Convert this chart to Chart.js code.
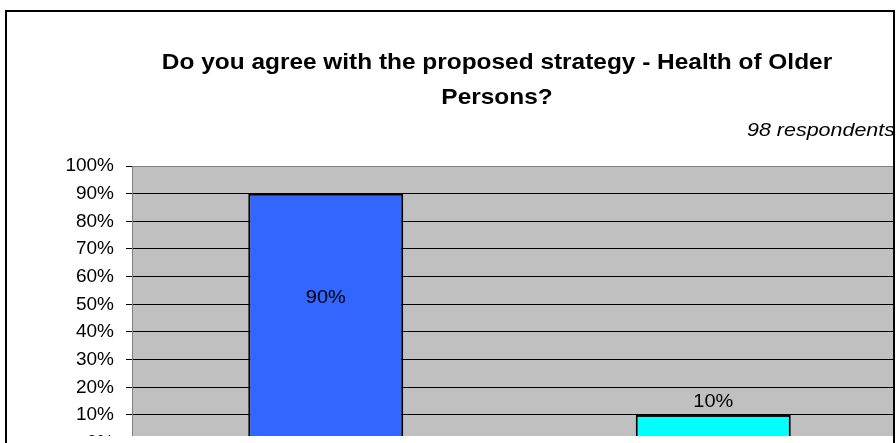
<!DOCTYPE html>
<html>
<head>
<meta charset="utf-8">
<script src="https://cdn.jsdelivr.net/npm/chart.js@4.4.0/dist/chart.umd.min.js"></script>
<style>
  html, body { margin: 0; padding: 0; background: #fff; overflow: hidden; }
  #wrap { position: absolute; left: 0; top: 0; width: 896px; height: 436px; overflow: hidden; }
  #leftTail { position: absolute; left: 5px; top: 436px; width: 2px; height: 7px; background: #000; }
  #rightTail { position: absolute; left: 893px; top: 436px; width: 2px; height: 7px; background: #000; }
</style>
</head>
<body>
<div id="wrap"><canvas id="c" width="910" height="466"></canvas></div>
<div id="leftTail"></div>
<div id="rightTail"></div>
<script>
const titleLines = ["Do you agree with the proposed strategy - Health of Older", "Persons?"];
const subtitleText = "98 respondents";
const categories = ["Yes", "No"];
const values = [90, 10];
const barColors = ["#3366FF", "#00FFFF"];
const tickStep = 10;

function stretchText(ctx, txt, x, y, sx, align) {
  ctx.save();
  ctx.translate(x, y);
  ctx.scale(sx, 1);
  ctx.textAlign = align;
  ctx.fillText(txt, 0, 0);
  ctx.restore();
}

const framePlugin = {
  id: 'frame',
  beforeDraw(chart) {
    const { ctx, chartArea: a } = chart;
    ctx.save();
    ctx.fillStyle = '#C0C0C0';
    ctx.fillRect(a.left, a.top, a.right - a.left, a.bottom - a.top);
    ctx.restore();
  },
  afterDraw(chart) {
    const { ctx } = chart;
    ctx.save();
    ctx.fillStyle = '#000';
    ctx.textBaseline = 'alphabetic';
    ctx.font = 'bold 22px "Liberation Sans", Arial, sans-serif';
    stretchText(ctx, titleLines[0], 497, 69, 1.11, 'center');
    stretchText(ctx, titleLines[1], 497, 104, 1.11, 'center');
    ctx.font = 'italic 19px "Liberation Sans", Arial, sans-serif';
    stretchText(ctx, subtitleText, 747, 136, 1.13, 'left');
    // clear beyond right border
    ctx.fillStyle = '#fff';
    ctx.fillRect(895, 0, 20, 470);
    // outer border
    ctx.strokeStyle = '#000';
    ctx.lineWidth = 2;
    ctx.beginPath();
    ctx.moveTo(6, 470);
    ctx.lineTo(6, 11);
    ctx.lineTo(894, 11);
    ctx.lineTo(894, 470);
    ctx.stroke();
    ctx.restore();
  }
};

const labelPlugin = {
  id: 'barLabels',
  afterDatasetsDraw(chart) {
    const { ctx } = chart;
    const meta = chart.getDatasetMeta(0);
    const y = chart.scales.y;
    ctx.save();
    ctx.fillStyle = '#000';
    ctx.font = '19px "Liberation Sans", Arial, sans-serif';
    ctx.textBaseline = 'middle';
    meta.data.forEach((bar, i) => {
      const v = values[i];
      const txt = v + '%';
      let py;
      if (v > 50) py = y.getPixelForValue(v / 2) - 20;
      else py = bar.y - 13;
      stretchText(ctx, txt, bar.x, py, 1.05, 'center');
    });
    ctx.restore();
  }
};

new Chart(document.getElementById('c'), {
  type: 'bar',
  data: {
    labels: categories,
    datasets: [{
      data: values,
      backgroundColor: barColors,
      borderColor: '#000',
      borderWidth: 2,
      borderSkipped: false,
      categoryPercentage: 0.4,
      barPercentage: 1.0
    }]
  },
  options: {
    responsive: false,
    animation: false,
    devicePixelRatio: 1,
    layout: { padding: { top: 166, right: 3, bottom: 11, left: 0 } },
    plugins: { legend: { display: false }, title: { display: false }, tooltip: { enabled: false } },
    scales: {
      x: { display: false, grid: { display: false } },
      y: {
        min: 0, max: 100,
        afterFit(scale) { scale.width = 132; },
        ticks: {
          stepSize: tickStep,
          padding: 12,
          color: '#000',
          font: { family: '"Liberation Sans", Arial, sans-serif', size: 19 },
          callback: v => v + '%'
        },
        grid: {
          color: ctx => (ctx.tick && ctx.tick.value === 100) ? '#808080' : '#000',
          tickColor: '#000',
          tickLength: 6,
          lineWidth: 1
        },
        border: { color: '#808080', width: 1 }
      }
    }
  },
  plugins: [framePlugin, labelPlugin]
});
</script>
</body>
</html>
